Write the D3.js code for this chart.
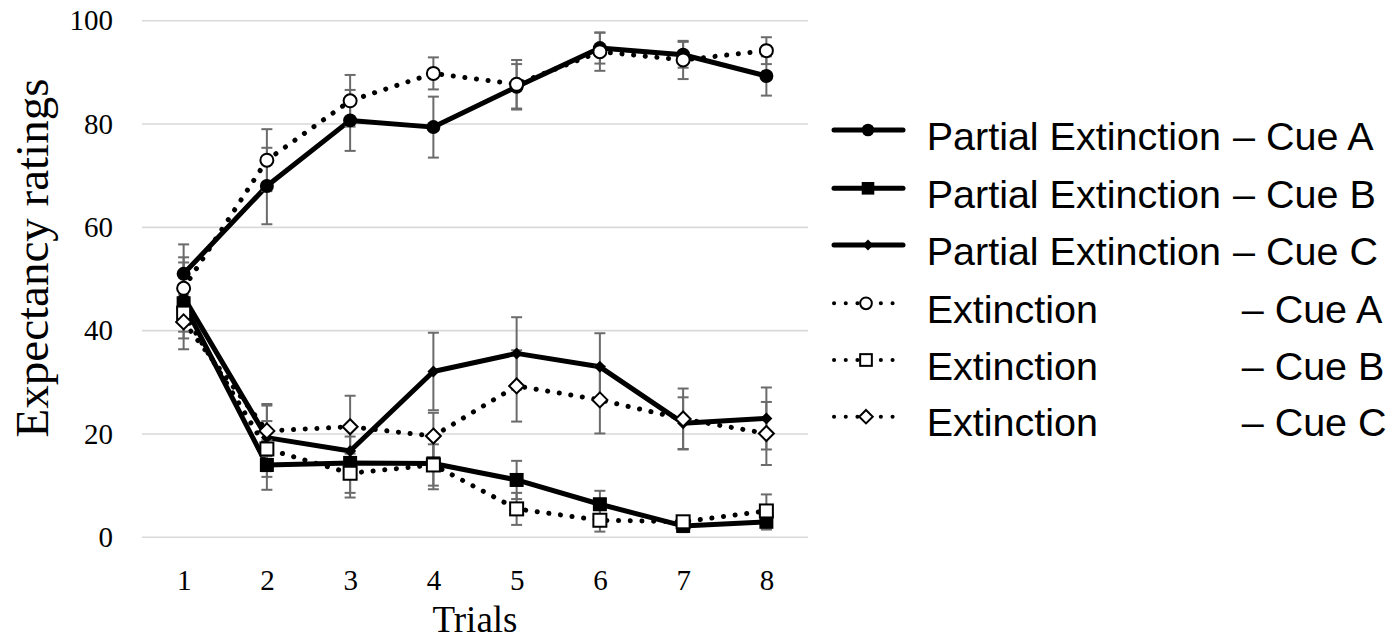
<!DOCTYPE html>
<html>
<head>
<meta charset="utf-8">
<script src="https://cdn.jsdelivr.net/npm/d3@7"></script>
<style>
  html, body { margin: 0; padding: 0; background: #fff; }
  svg { display: block; }
</style>
</head>
<body>
<svg id="chart" width="1396" height="641"></svg>
<script>
// Trial numbers and y-axis ticks
const trials = [1, 2, 3, 4, 5, 6, 7, 8];
const yTicks = [0, 20, 40, 60, 80, 100];

// Mean expectancy ratings and error-bar half-widths per group and cue
const partialA = [51.0, 68.0, 80.7, 79.4, 87.2, 94.7, 93.4, 89.3];
const partialAErr = [5.7, 7.4, 5.9, 5.9, 4.4, 3.0, 2.5, 3.8];
const partialB = [45.3, 14.0, 14.4, 14.3, 11.1, 6.4, 2.2, 3.0];
const partialBErr = [8.9, 4.8, 6.7, 5.0, 3.7, 2.6, 1.2, 1.5];
const partialC = [46.5, 19.3, 16.7, 32.1, 35.6, 33.0, 22.1, 23.0];
const partialCErr = [5.0, 6.5, 2.8, 7.5, 7.0, 6.5, 5.0, 6.0];
const extA = [48.2, 73.0, 84.5, 89.8, 87.7, 94.0, 92.4, 94.2];
const extAErr = [5.0, 6.0, 5.0, 3.1, 4.7, 3.7, 3.7, 2.6];
const extB = [43.4, 17.1, 12.4, 14.0, 5.5, 3.3, 3.0, 5.1];
const extBErr = [3.6, 5.4, 3.8, 4.0, 3.1, 2.2, 1.0, 3.2];
const extC = [41.7, 20.6, 21.4, 19.6, 29.3, 26.6, 22.9, 20.1];
const extCErr = [3.2, 4.9, 6.0, 4.5, 6.9, 6.5, 5.9, 6.1];

// Legend labels
const groupNames = ["Partial Extinction", "Partial Extinction", "Partial Extinction",
                    "Extinction", "Extinction", "Extinction"];
const cueNames = ["– Cue A", "– Cue B", "– Cue C", "– Cue A", "– Cue B", "– Cue C"];

const series = [
  { values: partialA, err: partialAErr, dotted: false, marker: "circle", filled: true },
  { values: partialB, err: partialBErr, dotted: false, marker: "square", filled: true },
  { values: partialC, err: partialCErr, dotted: false, marker: "smallDiamond", filled: true },
  { values: extA, err: extAErr, dotted: true, marker: "circle", filled: false },
  { values: extB, err: extBErr, dotted: true, marker: "square", filled: false },
  { values: extC, err: extCErr, dotted: true, marker: "diamond", filled: false }
];

const svg = d3.select("#chart");
const plot = { left: 142, right: 808, top: 20.7, bottom: 537.3 };

const x = d3.scalePoint().domain(trials).range([plot.left, plot.right]).padding(0.5);
const y = d3.scaleLinear().domain([0, 100]).range([plot.bottom, plot.top]);

// Horizontal gridlines
svg.append("g")
  .selectAll("line")
  .data(yTicks)
  .join("line")
  .attr("x1", plot.left).attr("x2", plot.right)
  .attr("y1", d => y(d)).attr("y2", d => y(d))
  .attr("stroke", "#d9d9d9").attr("stroke-width", 1.6);

// Y axis labels
const yAxis = svg.append("g")
  .attr("transform", `translate(${plot.left},0)`)
  .call(d3.axisLeft(y).tickValues(yTicks).tickSize(0).tickPadding(29));
yAxis.select(".domain").remove();
yAxis.selectAll("text")
  .attr("font-family", "'Liberation Serif', 'Times New Roman', serif")
  .attr("font-size", 29).attr("fill", "#000");

// X axis labels
const xAxis = svg.append("g")
  .attr("transform", `translate(0,${plot.bottom})`)
  .call(d3.axisBottom(x).tickSize(0).tickPadding(32));
xAxis.select(".domain").remove();
xAxis.selectAll("text")
  .attr("font-family", "'Liberation Serif', 'Times New Roman', serif")
  .attr("font-size", 29).attr("fill", "#000");

// Axis titles
svg.append("text")
  .attr("x", (plot.left + plot.right) / 2).attr("y", 632)
  .attr("text-anchor", "middle")
  .attr("font-family", "'Liberation Serif', 'Times New Roman', serif")
  .attr("font-size", 37).text("Trials");

svg.append("text")
  .attr("transform", "translate(48,258) rotate(-90)")
  .attr("text-anchor", "middle")
  .attr("font-family", "'Liberation Serif', 'Times New Roman', serif")
  .attr("font-size", 47).text("Expectancy ratings");

// Marker drawing helper
function drawMarker(g, type, filled, cx, cy, scale) {
  const s = scale || 1;
  const fill = filled ? "#000" : "#fff";
  const sw = filled ? 0 : 2;
  if (type === "circle") {
    g.append("circle").attr("cx", cx).attr("cy", cy).attr("r", (filled ? 7 : 6.5) * s)
      .attr("fill", fill).attr("stroke", "#000").attr("stroke-width", sw);
  } else if (type === "square") {
    const h = (filled ? 7 : 6.5) * s;
    g.append("rect").attr("x", cx - h).attr("y", cy - h).attr("width", 2 * h).attr("height", 2 * h)
      .attr("fill", fill).attr("stroke", "#000").attr("stroke-width", sw);
  } else if (type === "diamond" || type === "smallDiamond") {
    const h = (type === "diamond" ? 7.5 : 6) * s;
    g.append("path")
      .attr("d", `M${cx},${cy - h}L${cx + h},${cy}L${cx},${cy + h}L${cx - h},${cy}Z`)
      .attr("fill", fill).attr("stroke", "#000").attr("stroke-width", sw);
  }
}

const line = d3.line().x((d, i) => x(trials[i])).y(d => y(d));

// Lines
const linesG = svg.append("g");
series.forEach(s => {
  linesG.append("path")
    .attr("d", line(s.values))
    .attr("fill", "none")
    .attr("stroke", "#000")
    .attr("stroke-width", 5)
    .attr("stroke-linecap", s.dotted ? "round" : "butt")
    .attr("stroke-linejoin", "round")
    .attr("stroke-dasharray", s.dotted ? "0.1 11.6" : null);
});

// Error bars
const errG = svg.append("g").attr("stroke", "#6b6b6b").attr("stroke-width", 2);
series.forEach(s => {
  s.values.forEach((v, i) => {
    const cx = x(trials[i]);
    const lo = y(v - s.err[i]), hi = y(v + s.err[i]);
    errG.append("line").attr("x1", cx).attr("x2", cx).attr("y1", lo).attr("y2", hi);
    errG.append("line").attr("x1", cx - 5.5).attr("x2", cx + 5.5).attr("y1", lo).attr("y2", lo);
    errG.append("line").attr("x1", cx - 5.5).attr("x2", cx + 5.5).attr("y1", hi).attr("y2", hi);
  });
});

// Markers
const markG = svg.append("g");
series.forEach(s => {
  s.values.forEach((v, i) => drawMarker(markG, s.marker, s.filled, x(trials[i]), y(v)));
});

// Legend
const legendRows = [130, 188.3, 245, 303.3, 360, 416.7];
const legend = svg.append("g");
series.forEach((s, i) => {
  const ry = legendRows[i];
  const g = legend.append("g");
  g.append("line")
    .attr("x1", 834).attr("x2", s.dotted ? 896 : 903)
    .attr("y1", ry).attr("y2", ry)
    .attr("stroke", "#000")
    .attr("stroke-width", s.dotted ? 4 : 5)
    .attr("stroke-linecap", "round")
    .attr("stroke-dasharray", s.dotted ? "0.1 11.6" : null);
  drawMarker(g, s.marker, s.filled, s.dotted ? 866 : 868, ry, 0.9);
  g.append("text")
    .attr("x", 926.7).attr("y", ry + 19.5)
    .attr("font-family", "'Liberation Sans', Arial, sans-serif")
    .attr("font-size", 39.5).text(groupNames[i]);
  g.append("text")
    .attr("x", s.dotted ? 1241.7 : 1233).attr("y", ry + 19.5)
    .attr("font-family", "'Liberation Sans', Arial, sans-serif")
    .attr("font-size", 39.5).text(cueNames[i]);
});
</script>
</body>
</html>
